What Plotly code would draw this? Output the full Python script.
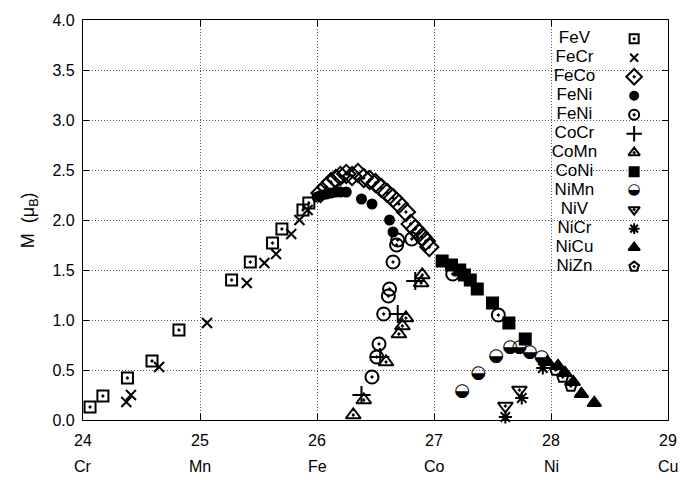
import plotly.graph_objects as go

# ---------------- data ----------------
FeV_x = [24.06, 24.17, 24.38, 24.59, 24.82, 25.27, 25.43, 25.62, 25.70, 25.88, 25.93]
FeV_y = [0.13, 0.24, 0.42, 0.59, 0.90, 1.40, 1.58, 1.77, 1.91, 2.10, 2.17]

FeCr_x = [24.37, 24.41, 24.65, 25.06, 25.40, 25.55, 25.65, 25.78, 25.85, 25.92]
FeCr_y = [0.18, 0.25, 0.53, 0.97, 1.37, 1.57, 1.66, 1.86, 2.00, 2.10]

FeCo_x = [26.03, 26.08, 26.12, 26.16, 26.20, 26.25, 26.30, 26.35, 26.40, 26.45, 26.50,
          26.55, 26.60, 26.65, 26.70, 26.76, 26.80, 26.84, 26.87, 26.90, 26.93, 26.96]
FeCo_y = [2.27, 2.33, 2.38, 2.41, 2.44, 2.46, 2.44, 2.47, 2.42, 2.40, 2.37,
          2.32, 2.27, 2.22, 2.16, 2.08, 1.96, 1.91, 1.87, 1.83, 1.79, 1.73]

FeNiA_x = [26.00, 26.04, 26.08, 26.12, 26.16, 26.20, 26.25, 26.38, 26.47, 26.62, 26.65]
FeNiA_y = [2.23, 2.25, 2.26, 2.27, 2.28, 2.28, 2.28, 2.21, 2.16, 2.00, 1.88]

FeNiB_x = [26.47, 26.51, 26.53, 26.57, 26.61, 26.62, 26.65, 26.68, 26.69, 26.81, 27.16, 27.55]
FeNiB_y = [0.43, 0.63, 0.76, 1.06, 1.24, 1.31, 1.58, 1.75, 1.80, 1.81, 1.46, 1.05]

CoCr_x = [26.38, 26.54, 26.69, 26.84]
CoCr_y = [0.25, 0.63, 1.06, 1.39]

CoMn_x = [26.31, 26.40, 26.59, 26.70, 26.73, 26.76, 26.89, 26.90]
CoMn_y = [0.05, 0.20, 0.58, 0.86, 0.94, 1.02, 1.37, 1.45]

CoNi_x = [27.07, 27.15, 27.22, 27.26, 27.31, 27.37, 27.50, 27.64, 27.78]
CoNi_y = [1.59, 1.55, 1.50, 1.45, 1.40, 1.31, 1.17, 0.97, 0.81]

NiMn_x = [27.24, 27.38, 27.53, 27.65, 27.73, 27.82, 27.92]
NiMn_y = [0.29, 0.47, 0.64, 0.73, 0.73, 0.68, 0.63]

NiV_x = [27.61, 27.73]
NiV_y = [0.14, 0.30]

NiCr_x = [27.61, 27.75, 27.93]
NiCr_y = [0.03, 0.22, 0.52]

NiCu_x = [27.97, 28.06, 28.12, 28.19, 28.26, 28.37]
NiCu_y = [0.58, 0.54, 0.47, 0.38, 0.26, 0.17]

NiZn_x = [28.04, 28.10, 28.17]
NiZn_y = [0.50, 0.43, 0.34]

x_ticks = [24, 25, 26, 27, 28, 29]
elements = ["Cr", "Mn", "Fe", "Co", "Ni", "Cu"]
y_ticks = [0.0, 0.5, 1.0, 1.5, 2.0, 2.5, 3.0, 3.5, 4.0]

# name, x, y, symbol, plot size, legend size, kind
series = [
    ("FeV", FeV_x, FeV_y, "square-open-dot", 11, 9, "marker"),
    ("FeCr", FeCr_x, FeCr_y, "x-thin-open", 10, 8, "marker"),
    ("FeCo", FeCo_x, FeCo_y, "diamond-open-dot", 14, 12, "marker"),
    ("FeNi", FeNiA_x, FeNiA_y, "circle", 9, 8, "marker"),
    ("FeNi", FeNiB_x, FeNiB_y, "circle-open-dot", 13, 10, "marker"),
    ("CoCr", CoCr_x, CoCr_y, "cross-thin-open", 13, 11, "marker"),
    ("CoMn", CoMn_x, CoMn_y, "triangle-up-open-dot", 13, 10, "marker"),
    ("CoNi", CoNi_x, CoNi_y, "square", 11, 9, "marker"),
    ("NiMn", NiMn_x, NiMn_y, "\u25D2", 18, 15, "text"),
    ("NiV", NiV_x, NiV_y, "triangle-down-open-dot", 13, 10, "marker"),
    ("NiCr", NiCr_x, NiCr_y, "asterisk-open", 11, 9, "marker"),
    ("NiCu", NiCu_x, NiCu_y, "triangle-up", 12, 10, "marker"),
    ("NiZn", NiZn_x, NiZn_y, "pentagon-open-dot", 12, 10, "marker"),
]

FONT = "Liberation Sans, Arial, Helvetica, sans-serif"
fig = go.Figure()


def add_series(xs, ys, symbol, size, kind, xaxis="x", yaxis="y"):
    if kind == "marker":
        fig.add_trace(go.Scatter(
            x=xs, y=ys, mode="markers", xaxis=xaxis, yaxis=yaxis,
            showlegend=False, cliponaxis=False, hoverinfo="skip",
            marker=dict(symbol=symbol, size=size, color="black",
                        line=dict(color="black", width=2)),
        ))
    else:
        fig.add_trace(go.Scatter(
            x=xs, y=ys, mode="text", xaxis=xaxis, yaxis=yaxis,
            text=[symbol] * len(xs), textposition="middle center",
            textfont=dict(family="DejaVu Sans", size=size, color="black"),
            showlegend=False, cliponaxis=False, hoverinfo="skip",
        ))


for name, xs, ys, sym, size, lsize, kind in series:
    add_series(xs, ys, sym, size, kind)

# ---------- custom legend (labels left, symbols right) ----------
rows = list(range(len(series)))
for i, (name, xs, ys, sym, size, lsize, kind) in enumerate(series):
    add_series([1], [i], sym, lsize, kind, xaxis="x2", yaxis="y2")
fig.add_trace(go.Scatter(
    x=[0] * len(series), y=rows, mode="text", xaxis="x2", yaxis="y2",
    text=[s[0] for s in series], textposition="middle center",
    textfont=dict(family=FONT, size=17, color="black"),
    showlegend=False, cliponaxis=False, hoverinfo="skip",
))

# white box hiding gridlines behind legend
fig.add_shape(type="rect", xref="paper", yref="paper",
              x0=0.73, x1=0.997, y0=0.37, y1=0.997,
              fillcolor="white", line=dict(width=0), layer="between")

# element names under the tick numbers
for xv, el in zip(x_ticks, elements):
    fig.add_annotation(x=xv, y=-0.117, xref="x", yref="paper", text=el,
                       showarrow=False, xanchor="center", yanchor="middle",
                       font=dict(family=FONT, size=16, color="#000000"))

# y-axis title
fig.add_annotation(x=-0.092, y=0.5, xref="paper", yref="paper",
                   text="M  (\u03bc<sub>B</sub>)", textangle=-90,
                   showarrow=False, xanchor="center", yanchor="middle",
                   font=dict(family=FONT, size=18, color="#000000"))

axis_common = dict(
    showline=True, linecolor="black", linewidth=1.3, mirror="ticks",
    ticks="inside", ticklen=6, tickwidth=1, tickcolor="black",
    showgrid=True, gridcolor="#555555", griddash="1px,2px", gridwidth=1,
    zeroline=False, tickfont=dict(family=FONT, size=16, color="#000000"),
)

fig.update_layout(
    width=689, height=480,
    margin=dict(l=83, r=18, t=16, b=60),
    paper_bgcolor="white", plot_bgcolor="white",
    font=dict(family=FONT, color="#000000"),
    xaxis=dict(range=[24, 29], tickvals=x_ticks, ticktext=[str(v) for v in x_ticks],
               ticklabelstandoff=6, **axis_common),
    yaxis=dict(range=[0, 4], tickvals=y_ticks, ticktext=[f"{v:.1f}" for v in y_ticks],
               ticklabelstandoff=4, **axis_common),
    xaxis2=dict(domain=[0, 1], range=[-8.233, 1.567], anchor="y2", overlaying="x",
                visible=False, fixedrange=True),
    yaxis2=dict(domain=[0, 1], range=[20.08, -0.99], anchor="x2", overlaying="y",
                visible=False, fixedrange=True),
    showlegend=False,
)

fig.write_html("out.html")
